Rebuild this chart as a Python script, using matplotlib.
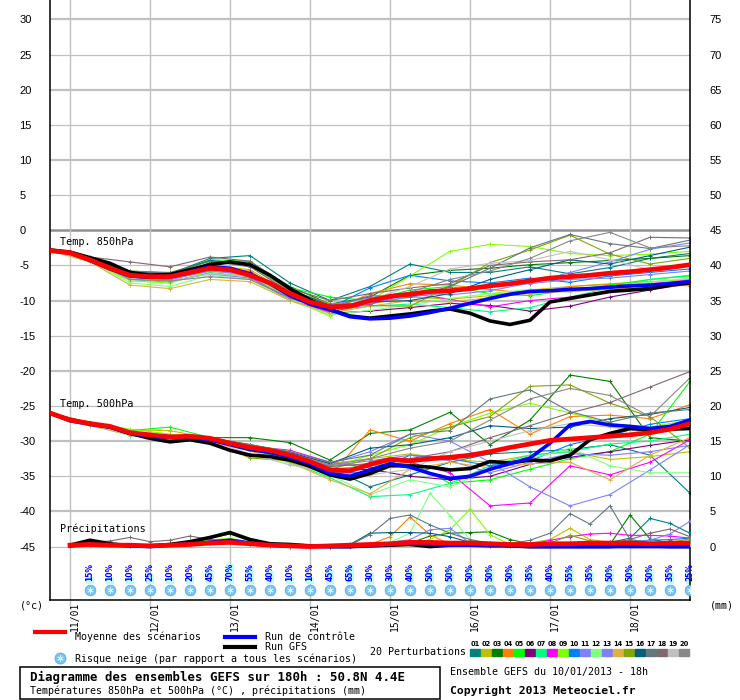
import numpy as np
import matplotlib.pyplot as plt
from matplotlib.lines import Line2D
from matplotlib.patches import Rectangle
from matplotlib.transforms import ScaledTranslation

plt.rcParams['axes.unicode_minus'] = False

# heures depuis le 10/01 18h
heures6 = np.arange(0, 193, 6)
heures12 = np.arange(0, 193, 12)
heures_pluie = np.arange(6, 193, 6)
heures_neige = np.arange(12, 193, 6)
jours = ['11/01', '12/01', '13/01', '14/01', '15/01', '16/01', '17/01', '18/01']
heures_jours = [6, 30, 54, 78, 102, 126, 150, 174]

# moyenne / controle / GFS (pas de 6h)
moy850 = [-2.9, -3.2, -4.2, -5.4, -6.4, -6.6, -6.6, -6.0, -5.4, -5.6, -6.4, -7.5, -9.0, -10.2, -10.9,
          -10.8, -10.0, -9.4, -9.1, -8.7, -8.6, -8.3, -7.9, -7.6, -7.2, -6.8, -6.6, -6.4, -6.1, -5.9,
          -5.6, -5.3, -4.9]
ctrl850 = [-2.9, -3.2, -4.3, -5.5, -6.5, -6.7, -6.6, -5.9, -5.2, -5.4, -6.2, -7.6, -9.3, -10.5, -11.3,
           -12.3, -12.6, -12.5, -12.2, -11.7, -11.1, -10.4, -9.7, -9.1, -8.7, -8.6, -8.4, -8.3, -8.1, -7.9,
           -7.8, -7.6, -7.3]
gfs850 = [-2.8, -3.1, -3.9, -4.7, -6.0, -6.4, -6.3, -5.6, -4.9, -4.5, -4.9, -6.4, -8.3, -9.9, -11.3,
          -12.2, -12.5, -12.2, -11.9, -11.5, -11.2, -11.8, -12.9, -13.4, -12.8, -10.2, -9.7, -9.2, -8.7, -8.5,
          -8.3, -7.8, -7.5]
moy500 = [-26.0, -27.0, -27.5, -27.9, -28.8, -29.1, -29.4, -29.3, -29.6, -30.3, -30.9, -31.3, -32.0, -32.9, -34.1,
          -34.2, -33.3, -32.6, -32.8, -32.5, -32.3, -32.0, -31.5, -30.9, -30.4, -29.9, -29.7, -29.5, -29.3, -29.1,
          -28.8, -28.3, -27.5]
ctrl500 = [-26.0, -27.1, -27.6, -28.0, -28.9, -29.3, -29.5, -29.5, -29.8, -30.5, -31.2, -31.6, -32.3, -33.2, -34.6,
           -35.0, -34.1, -33.2, -33.7, -34.6, -35.3, -35.0, -34.0, -33.2, -32.4, -30.3, -27.7, -27.2, -27.7, -27.9,
           -28.2, -27.9, -27.0]
gfs500 = [-26.0, -27.0, -27.5, -28.0, -28.9, -29.6, -30.1, -29.8, -30.3, -31.3, -32.0, -32.2, -32.7, -33.6, -34.8,
          -35.4, -34.6, -33.5, -33.5, -33.7, -34.1, -33.9, -32.9, -33.1, -32.7, -32.8, -32.0, -29.8, -28.9, -28.2,
          -28.4, -28.3, -28.2]
moy_pluie = [0.2, 0.3, 0.2, 0.2, 0.1, 0.2, 0.3, 0.5, 0.6, 0.4, 0.2, 0.1, 0.0, 0.1, 0.2, 0.3,
             0.4, 0.6, 0.6, 0.5, 0.5, 0.4, 0.3, 0.3, 0.4, 0.4, 0.5, 0.5, 0.5, 0.4, 0.5, 0.5]
ctrl_pluie = [0.1, 0.3, 0.2, 0.1, 0.0, 0.2, 0.4, 0.6, 0.9, 0.5, 0.2, 0.1, 0.0, 0.0, 0.0, 0.2,
              0.3, 0.4, 0.3, 0.2, 0.2, 0.1, 0.1, 0.0, 0.0, 0.0, 0.0, 0.0, 0.0, 0.0, 0.0, 0.0]
gfs_pluie = [0.2, 0.9, 0.4, 0.1, 0.1, 0.3, 0.7, 1.3, 2.0, 1.0, 0.4, 0.3, 0.1, 0.0, 0.0, 0.1,
             0.2, 0.3, 0.0, 0.2, 0.5, 0.4, 0.1, 0.0, 0.0, 0.0, 0.0, 0.0, 0.2, 0.1, 0.0, 0.0]

# 20 perturbations, pas de 12h pour les temperatures
pert850 = [
    [-2.8, -4.0, -6.0, -6.2, -4.0, -3.6, -7.5, -10.0, -8.0, -4.8, -6.0, -6.0, -5.2, -6.2, -5.3, -4.0, -3.3],
    [-2.8, -4.1, -6.2, -6.5, -5.0, -5.6, -9.0, -11.0, -10.5, -9.5, -9.8, -9.3, -8.5, -8.0, -7.6, -7.3, -7.0],
    [-2.9, -4.0, -6.1, -6.7, -4.6, -4.5, -8.0, -10.5, -9.5, -6.4, -5.7, -5.4, -4.9, -4.6, -4.3, -4.0, -3.6],
    [-2.9, -4.2, -6.6, -6.9, -5.2, -5.8, -9.5, -11.5, -9.0, -7.6, -7.8, -8.4, -9.0, -8.0, -7.7, -7.7, -7.9],
    [-2.7, -3.9, -6.3, -6.4, -4.2, -4.4, -8.2, -9.5, -10.0, -8.5, -8.0, -9.0, -9.3, -8.5, -7.8, -7.0, -6.5],
    [-2.9, -4.3, -6.8, -7.0, -5.6, -6.0, -9.4, -11.8, -11.5, -11.0, -10.4, -10.7, -11.5, -10.8, -9.5, -8.5, -7.6],
    [-2.8, -4.2, -7.0, -7.4, -6.0, -6.6, -9.6, -11.4, -10.8, -10.5, -11.0, -11.6, -11.0, -9.5, -8.2, -7.0, -6.4],
    [-2.9, -4.3, -6.6, -7.0, -5.5, -6.6, -10.0, -11.6, -10.5, -9.0, -9.8, -10.9, -10.0, -9.5, -8.6, -7.6, -7.1],
    [-2.8, -4.4, -7.2, -7.5, -5.8, -6.4, -9.8, -12.2, -10.0, -6.5, -3.0, -2.0, -2.3, -3.3, -3.6, -3.4, -3.0],
    [-2.8, -4.1, -6.4, -6.6, -5.4, -6.3, -9.2, -11.0, -8.2, -6.4, -7.2, -7.5, -6.8, -7.4, -6.5, -6.0, -5.5],
    [-2.8, -4.2, -6.7, -7.0, -5.8, -6.3, -9.0, -10.6, -9.6, -8.8, -9.2, -8.6, -7.5, -6.0, -4.5, -2.7, -1.8],
    [-2.9, -4.4, -7.5, -8.0, -6.4, -7.0, -10.0, -12.0, -11.4, -10.6, -9.7, -9.0, -8.4, -8.8, -8.0, -7.4, -6.8],
    [-2.8, -4.2, -6.9, -7.2, -6.2, -6.8, -9.7, -11.2, -10.3, -9.5, -8.8, -8.0, -7.6, -7.0, -6.8, -6.3, -5.8],
    [-2.9, -4.5, -7.8, -8.3, -7.0, -7.3, -10.0, -11.8, -10.8, -10.0, -10.2, -9.6, -9.0, -8.7, -8.4, -8.1, -7.8],
    [-2.8, -4.0, -5.8, -6.0, -4.4, -5.0, -8.6, -10.4, -10.7, -10.8, -8.0, -4.6, -2.8, -0.7, -3.4, -4.8, -4.0],
    [-2.8, -4.0, -6.0, -6.1, -4.3, -4.8, -8.4, -10.7, -10.2, -10.0, -9.0, -7.0, -5.6, -4.2, -4.8, -3.6, -2.4],
    [-2.8, -4.0, -5.8, -6.1, -4.4, -5.2, -8.8, -11.0, -9.3, -9.5, -8.0, -5.4, -2.5, -0.6, -1.9, -2.6, -1.4],
    [-2.7, -3.8, -4.5, -5.2, -3.8, -4.4, -8.3, -10.0, -9.0, -8.2, -7.6, -5.0, -4.5, -4.2, -3.2, -1.0, -1.1],
    [-2.8, -4.2, -6.8, -7.2, -6.2, -6.5, -9.4, -11.2, -9.9, -8.0, -5.5, -4.7, -4.3, -3.0, -4.2, -5.6, -5.0],
    [-2.8, -4.2, -7.0, -7.2, -6.6, -7.0, -9.6, -11.2, -10.2, -8.8, -7.0, -5.8, -4.0, -1.5, -0.3, -2.5, -2.2],
]
pert500 = [
    [-26.0, -27.5, -28.9, -29.6, -29.9, -31.2, -32.3, -33.8, -36.5, -34.8, -33.0, -31.8, -31.5, -31.2, -30.5, -32.0, -37.4],
    [-26.0, -27.4, -28.4, -28.5, -29.6, -30.8, -32.0, -33.2, -32.5, -31.8, -32.6, -33.0, -32.0, -31.5, -32.6, -32.2, -31.5],
    [-26.0, -27.5, -28.8, -29.3, -29.5, -29.5, -30.2, -32.7, -28.9, -28.4, -25.9, -30.5, -27.0, -20.6, -21.5, -29.5, -30.0],
    [-26.0, -27.6, -28.9, -29.4, -29.9, -31.0, -32.5, -35.0, -28.4, -30.0, -27.5, -25.5, -29.0, -26.5, -26.3, -26.8, -24.8],
    [-26.0, -27.4, -28.5, -28.0, -29.5, -30.8, -32.5, -34.0, -33.5, -33.0, -36.0, -35.5, -34.0, -32.5, -31.5, -29.0, -21.5],
    [-26.0, -27.6, -29.0, -29.6, -29.9, -31.0, -32.2, -34.2, -34.0, -35.0, -35.5, -35.0, -33.3, -32.3, -31.5, -30.6, -29.8],
    [-26.0, -27.7, -29.2, -29.8, -30.2, -31.0, -33.0, -35.2, -37.9, -37.6, -36.0, -33.5, -32.0, -31.5, -30.4, -30.0, -29.0],
    [-26.0, -27.5, -28.9, -29.5, -29.6, -30.7, -31.3, -33.0, -33.8, -33.0, -34.5, -39.2, -38.8, -33.5, -34.8, -33.0, -29.8],
    [-26.0, -27.3, -28.3, -29.0, -29.5, -30.5, -31.5, -33.8, -32.0, -30.5, -28.0, -26.0, -24.6, -26.0, -27.5, -28.0, -27.0],
    [-26.0, -27.6, -29.0, -29.5, -29.8, -31.0, -32.8, -34.5, -34.5, -32.0, -32.5, -33.5, -32.8, -30.5, -29.2, -27.6, -26.8],
    [-26.0, -27.5, -28.9, -29.4, -29.8, -30.8, -31.7, -33.2, -31.5, -29.0, -30.0, -33.0, -36.5, -39.2, -37.6, -34.1, -30.5],
    [-26.0, -27.6, -29.1, -29.7, -30.0, -31.3, -33.2, -34.8, -37.6, -35.5, -36.5, -34.0, -32.5, -31.0, -33.5, -34.5, -34.5],
    [-26.0, -27.5, -28.8, -29.4, -29.8, -30.9, -32.0, -33.5, -32.8, -32.0, -32.8, -34.5, -33.0, -31.8, -32.0, -31.5, -30.6],
    [-26.0, -27.8, -29.1, -29.8, -30.1, -31.4, -33.0, -35.5, -37.5, -34.0, -33.0, -33.8, -33.2, -33.0, -35.5, -32.0, -29.5],
    [-26.0, -27.5, -28.8, -29.2, -30.0, -32.4, -32.8, -34.0, -32.5, -29.5, -28.0, -26.5, -22.2, -22.0, -24.6, -26.5, -31.0],
    [-26.0, -27.5, -28.8, -29.3, -29.6, -30.5, -31.6, -33.2, -31.0, -30.5, -29.5, -27.8, -28.2, -28.0, -26.8, -26.2, -25.2],
    [-26.0, -27.4, -28.7, -29.2, -29.5, -30.5, -31.5, -33.0, -32.0, -29.0, -28.5, -24.0, -22.7, -25.8, -27.3, -26.0, -25.5],
    [-26.0, -27.5, -28.8, -29.3, -29.6, -30.6, -31.9, -33.6, -33.2, -32.5, -31.5, -29.5, -27.8, -26.0, -24.5, -22.3, -20.1],
    [-26.0, -27.6, -29.0, -29.6, -30.0, -31.8, -33.4, -34.5, -34.8, -34.0, -31.5, -30.0, -28.5, -27.5, -28.0, -28.8, -27.8],
    [-26.0, -27.5, -28.8, -29.3, -29.6, -30.6, -31.8, -33.4, -32.5, -31.0, -30.0, -27.0, -24.0, -22.5, -23.5, -26.5, -21.0],
]
# precipitations (mm), pas de 6h a partir de 11/01 00h
pert_pluie = [
    [0.1, 0.3, 0.2, 0.2, 0.1, 0.2, 0.4, 0.6, 0.9, 0.4, 0.2, 0.1, 0, 0, 0.1, 0.3, 0.5, 0.6, 0.5, 0.4, 0.3, 0.2, 0.2, 0.3, 0.4, 0.5, 0.4, 0.6, 1.2, 4.0, 3.3, 1.9],
    [0.1, 0.4, 0.3, 0.2, 0.1, 0.3, 0.6, 0.9, 1.1, 0.5, 0.2, 0, 0, 0, 0.1, 0.2, 0.3, 0.4, 0.3, 0.3, 0.4, 0.3, 0.2, 0.5, 1.0, 2.6, 1.0, 0.6, 0.4, 0.5, 0.6, 0.8],
    [0.2, 0.5, 0.3, 0.2, 0.2, 0.4, 0.8, 1.2, 1.8, 0.8, 0.3, 0.1, 0, 0, 0.1, 0.3, 0.4, 0.5, 1.5, 1.9, 2.0, 2.1, 1.0, 0.4, 0.3, 0.3, 0.3, 0.3, 4.5, 1.1, 0.5, 0.4],
    [0.1, 0.3, 0.2, 0.2, 0.1, 0.2, 0.4, 0.6, 0.7, 0.4, 0.1, 0, 0, 0, 0.1, 0.3, 1.4, 4.2, 1.7, 0.3, 0.2, 0.2, 0.1, 0.2, 0.3, 0.3, 0.3, 0.2, 0.3, 0.4, 0.3, 0.4],
    [0.2, 0.4, 0.2, 0.1, 0.1, 0.3, 0.5, 0.8, 1.0, 0.5, 0.2, 0.1, 0, 0, 0, 0.2, 0.3, 0.4, 0.5, 0.4, 0.3, 0.3, 0.2, 0.3, 0.5, 0.6, 0.5, 0.4, 0.3, 0.3, 0.4, 0.6],
    [0.1, 0.2, 0.2, 0.1, 0.1, 0.2, 0.4, 0.6, 0.8, 0.3, 0.1, 0, 0, 0, 0.1, 0.2, 0.3, 0.3, 0.2, 0.2, 0.2, 0.1, 0.1, 0.2, 0.4, 0.5, 0.5, 0.4, 0.3, 0.2, 0.2, 0.2],
    [0.1, 0.3, 0.2, 0.1, 0.1, 0.2, 0.5, 0.7, 0.9, 0.4, 0.1, 0, 0, 0, 0.1, 0.2, 0.3, 0.4, 0.4, 0.3, 0.2, 0.2, 0.2, 0.3, 0.6, 0.5, 0.4, 0.3, 0.2, 0.3, 0.4, 0.5],
    [0.1, 0.3, 0.2, 0.1, 0.1, 0.2, 0.4, 0.6, 0.7, 0.3, 0.1, 0, 0, 0, 0.1, 0.2, 0.2, 0.3, 0.3, 0.2, 0.2, 0.2, 0.2, 0.3, 0.9, 1.4, 1.8, 1.9, 1.6, 1.6, 1.5, 1.2],
    [0.2, 0.4, 0.3, 0.2, 0.1, 0.3, 0.6, 0.9, 1.2, 0.6, 0.2, 0.1, 0, 0, 0.1, 0.2, 0.3, 0.4, 1.0, 2.4, 5.3, 1.7, 0.3, 0.2, 0.2, 0.3, 0.3, 0.3, 0.2, 0.3, 0.4, 0.5],
    [0.1, 0.3, 0.2, 0.1, 0.1, 0.2, 0.4, 0.5, 0.8, 0.3, 0.1, 0, 0, 0, 0.1, 0.3, 0.5, 0.6, 0.5, 0.3, 0.3, 0.2, 0.2, 0.3, 0.3, 0.4, 0.4, 0.5, 0.6, 0.9, 1.0, 1.2],
    [0.1, 0.3, 0.2, 0.2, 0.1, 0.2, 0.4, 0.6, 0.8, 0.4, 0.1, 0, 0, 0, 0.1, 0.3, 0.6, 1.0, 2.4, 2.6, 0.5, 0.3, 0.2, 0.2, 0.3, 0.4, 0.5, 0.6, 0.8, 0.9, 1.8, 3.6],
    [0.1, 0.3, 0.2, 0.2, 0.1, 0.2, 0.5, 0.7, 1.0, 0.4, 0.2, 0, 0, 0, 0.1, 0.3, 0.6, 1.9, 7.6, 4.4, 1.0, 0.3, 0.2, 0.2, 0.3, 0.3, 0.3, 0.2, 0.3, 0.3, 0.4, 0.4],
    [0.1, 0.2, 0.2, 0.1, 0.1, 0.2, 0.4, 0.5, 0.7, 0.3, 0.1, 0, 0, 0, 0.1, 0.2, 0.3, 0.4, 0.3, 0.3, 0.3, 0.2, 0.2, 0.2, 0.3, 0.4, 0.3, 0.3, 0.3, 0.4, 0.5, 0.6],
    [0.1, 0.3, 0.2, 0.1, 0.1, 0.2, 0.4, 0.6, 0.8, 0.3, 0.1, 0, 0, 0, 0.1, 0.2, 0.3, 0.3, 0.3, 0.2, 0.2, 0.2, 0.1, 0.2, 0.3, 0.3, 0.3, 0.3, 0.4, 0.5, 0.4, 0.6],
    [0.2, 0.4, 0.3, 0.2, 0.1, 0.3, 0.6, 0.8, 1.0, 0.5, 0.2, 0.1, 0, 0, 0.1, 0.2, 0.3, 0.4, 0.4, 0.3, 0.3, 0.3, 0.2, 0.3, 0.5, 1.6, 0.8, 0.4, 0.3, 0.4, 0.6, 1.1],
    [0.1, 0.3, 0.3, 0.2, 0.1, 0.3, 0.5, 0.7, 1.0, 0.5, 0.2, 0.1, 0, 0, 0.3, 1.9, 2.0, 2.0, 1.9, 1.4, 0.6, 0.3, 0.2, 0.2, 0.3, 0.3, 0.3, 0.3, 0.4, 0.4, 0.5, 0.6],
    [0.1, 0.3, 0.2, 0.2, 0.1, 0.2, 0.5, 0.7, 0.9, 0.4, 0.2, 0.1, 0, 0, 0.2, 1.7, 4.0, 4.5, 3.1, 1.9, 1.0, 0.5, 0.4, 0.9, 1.9, 4.7, 3.2, 5.8, 1.0, 0.6, 0.5, 0.5],
    [0.2, 0.6, 0.8, 1.3, 0.7, 0.9, 1.5, 1.0, 0.9, 0.4, 0.2, 0.1, 0, 0, 0.1, 0.2, 0.3, 0.3, 0.3, 0.2, 0.2, 0.2, 0.2, 0.3, 0.4, 0.4, 0.4, 0.5, 1.0, 1.9, 2.5, 1.4],
    [0.1, 0.2, 0.2, 0.1, 0.1, 0.2, 0.3, 0.5, 0.6, 0.3, 0.1, 0, 0, 0, 0.1, 0.2, 0.2, 0.3, 0.3, 0.2, 0.2, 0.1, 0.1, 0.2, 0.3, 0.3, 0.2, 0.2, 0.3, 0.3, 0.3, 0.4],
    [0.1, 0.3, 0.2, 0.2, 0.1, 0.3, 0.5, 0.7, 0.9, 0.4, 0.2, 0, 0, 0, 0.1, 0.2, 0.3, 0.4, 0.4, 0.3, 0.3, 0.2, 0.2, 0.3, 0.4, 0.5, 0.5, 0.4, 0.4, 0.5, 0.6, 0.7],
]
couleurs = ['#008080', '#C0C000', '#008000', '#FF8000', '#00FF00', '#800080', '#00FF80', '#FF00FF',
            '#80FF00', '#0080FF', '#8080FF', '#80FF80', '#8080F0', '#E0B040', '#80A800', '#006080',
            '#607880', '#806870', '#C0C0C0', '#888888']
neige = [15, 10, 10, 25, 10, 20, 45, 70, 55, 40, 10, 10, 45, 65, 30, 30, 40, 50, 50, 50, 50, 50,
         35, 40, 55, 35, 50, 50, 50, 35, 25]

mono = 'DejaVu Sans Mono'
W, H = 740, 700


def fx(px):
    return px / W


def fy(py):
    return 1 - py / H


fig = plt.figure(figsize=(7.4, 7.0), dpi=100)
ax = fig.add_axes([50 / W, 100 / H, 640 / W, 600 / H])
ax.set_xlim(0, 192)
ax.set_ylim(-52.6, 32.76)
ax2 = ax.twinx()
ax2.set_ylim(-7.6, 77.76)

# grille
for v in range(-45, 31, 5):
    if v == 0:
        ax.axhline(v, color='#909090', lw=1.8, zorder=0.5)
    elif v % 10 == 0:
        ax.axhline(v, color='#C0C0C0', lw=1.6, zorder=0.5)
    else:
        ax.axhline(v, color='#C0C0C0', lw=0.9, zorder=0.5)
for h in heures_jours:
    ax.axvline(h, color='#C0C0C0', lw=1.0, zorder=0.5)

# temperatures
for i in range(20):
    ax.plot(heures12, pert850[i], color=couleurs[i], lw=0.8, marker='+', ms=3.5, mew=0.7, zorder=2)
    ax.plot(heures12, pert500[i], color=couleurs[i], lw=0.8, marker='+', ms=3.5, mew=0.7, zorder=2)
for serie, coul, lw, z in [(gfs850, 'black', 2.6, 3), (ctrl850, '#0000FF', 2.6, 4), (moy850, '#FF0000', 3.4, 5),
                           (gfs500, 'black', 2.6, 3), (ctrl500, '#0000FF', 2.6, 4), (moy500, '#FF0000', 3.4, 5)]:
    ax.plot(heures6, serie, color=coul, lw=lw, zorder=z, solid_joinstyle='round')

# precipitations sur l'axe de droite
for i in range(20):
    ax2.plot(heures_pluie, pert_pluie[i], color=couleurs[i], lw=0.8, marker='+', ms=3.5, mew=0.7, zorder=2)
ax2.plot(heures_pluie, gfs_pluie, color='black', lw=2.6, zorder=3)
ax2.plot(heures_pluie, ctrl_pluie, color='#0000FF', lw=2.6, zorder=4)
ax2.plot(heures_pluie, moy_pluie, color='#FF0000', lw=3.4, zorder=5)

# risque neige
px = 1 / 7.03
ax.bar(heures_neige, [(3.5 + 0.236 * p) * px for p in neige], bottom=-50.3, width=2.2,
       color='#B8FFFF', zorder=1)
for h, p in zip(heures_neige, neige):
    ax.text(h, -49.9, f'{p}%', rotation=90, ha='center', va='bottom', fontsize=5.5,
            color='#0000FF', fontweight='bold', zorder=6)
ax.scatter(heures_neige, [-51.15] * len(heures_neige), s=60, color='#78C4F0', edgecolors='#5AA8E0',
           linewidths=0.5, zorder=6)
ax.scatter(heures_neige, [-51.15] * len(heures_neige), s=18, marker=(6, 2, 0), color='#D8F0FF',
           linewidths=0.6, zorder=7)

ax.text(3, -1.7, 'Temp. 850hPa', fontsize=7.3, family=mono, va='center', zorder=6)
ax.text(3, -24.7, 'Temp. 500hPa', fontsize=7.3, family=mono, va='center', zorder=6)
ax.text(3, -42.5, 'Précipitations', fontsize=7.3, family=mono, va='center', zorder=6)

# axes
ax.set_yticks(range(-45, 31, 5))
ax.tick_params(axis='y', length=0, pad=22, labelsize=8)
for lab in ax.get_yticklabels():
    lab.set_ha('left')
    lab.set_family('Liberation Sans')
ax2.set_yticks(range(0, 76, 5))
ax2.tick_params(axis='y', length=0, pad=14, labelsize=8)
for lab in ax2.get_yticklabels():
    lab.set_family('Liberation Sans')
ax.set_xticks(heures_jours)
ax.set_xticklabels([])
ax.tick_params(axis='x', length=4, color='#C0C0C0', width=1)
decal = ax.get_xaxis_transform() + ScaledTranslation(5 / 100, -2 / 100, fig.dpi_scale_trans)
for h, j in zip(heures_jours, jours):
    ax.text(h, 0, j, rotation=90, ha='center', va='top', fontsize=7.0, family=mono, transform=decal)
for s in ['left', 'right', 'bottom']:
    ax.spines[s].set_linewidth(1.1)
ax.spines['top'].set_visible(False)
for s in ax2.spines.values():
    s.set_visible(False)

# legende
fig.text(fx(20), fy(606), '(°c)', fontsize=7.2, family=mono, va='center')
fig.text(fx(710), fy(606), '(mm)', fontsize=7.2, family=mono, va='center')
fig.add_artist(Line2D([fx(35), fx(65)], [fy(632)] * 2, color='#FF0000', lw=3, transform=fig.transFigure))
fig.text(fx(75), fy(637), 'Moyenne des scénarios', fontsize=7.2, family=mono, va='center')
fig.add_artist(Line2D([fx(225), fx(255)], [fy(637)] * 2, color='#0000FF', lw=3, transform=fig.transFigure))
fig.text(fx(265), fy(637), 'Run de contrôle', fontsize=7.2, family=mono, va='center')
fig.add_artist(Line2D([fx(225), fx(255)], [fy(647)] * 2, color='black', lw=3, transform=fig.transFigure))
fig.text(fx(265), fy(647), 'Run GFS', fontsize=7.2, family=mono, va='center')
fig.add_artist(Line2D([fx(60)], [fy(658)], marker='o', ms=8, color='#78C4F0', mec='#5AA8E0', mew=0.5,
                      transform=fig.transFigure))
fig.add_artist(Line2D([fx(60)], [fy(658)], marker=(6, 2, 0), ms=4.5, color='#D8F0FF', mew=0.6,
                      transform=fig.transFigure))
fig.text(fx(75), fy(659), 'Risque neige (par rapport a tous les scénarios)', fontsize=7.2, family=mono,
         va='center')
fig.text(fx(370), fy(652), '20 Perturbations', fontsize=7.2, family=mono, va='center')
for i, c in enumerate(couleurs):
    fig.add_artist(Rectangle((fx(470 + 11 * i), fy(656)), 10 / W, 7 / H, color=c, transform=fig.transFigure))
    fig.text(fx(475 + 11 * i), fy(644), f'{i + 1:02d}', fontsize=4.8, fontweight='bold', ha='center',
             va='center')

fig.add_artist(Rectangle((fx(20), fy(699)), 420 / W, 32 / H, fill=False, ec='black', lw=1.1,
                         transform=fig.transFigure))
fig.text(fx(30), fy(677), 'Diagramme des ensembles GEFS sur 180h : 50.8N 4.4E', fontsize=8.9,
         family=mono, fontweight='bold', va='center')
fig.text(fx(30), fy(691), 'Températures 850hPa et 500hPa (°C) , précipitations (mm)', fontsize=7.2,
         family=mono, va='center')
fig.text(fx(450), fy(672), 'Ensemble GEFS du 10/01/2013 - 18h', fontsize=7.2, family=mono, va='center')
fig.text(fx(450), fy(691), 'Copyright 2013 Meteociel.fr', fontsize=8.2, family=mono, fontweight='bold',
         va='center')

fig.savefig('out.png', dpi=100)
